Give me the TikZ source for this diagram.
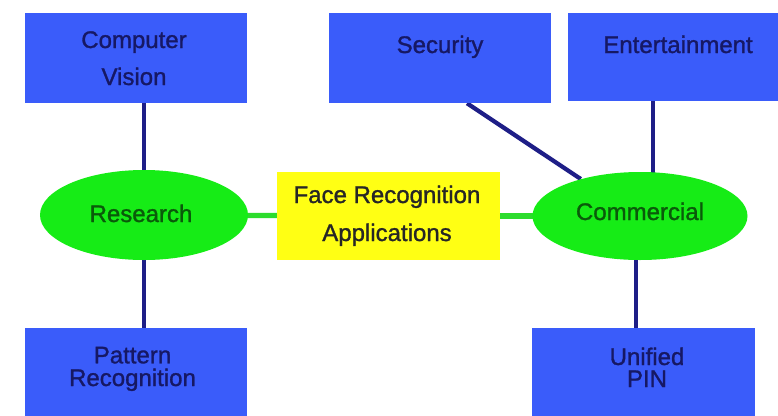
\documentclass[tikz,border=0pt]{standalone}
\usepackage{fontspec}
\setmainfont{Liberation Sans}
\newfontface\heavyface{Liberation Sans}[FakeBold=1.2]
\usetikzlibrary{shapes.geometric,calc,backgrounds}
\definecolor{boxblue}{RGB}{58,92,250}
\definecolor{navytext}{RGB}{22,24,100}
\definecolor{navyline}{RGB}{30,30,135}
\definecolor{ellgreen}{RGB}{22,236,22}
\definecolor{greentext}{RGB}{10,90,10}
\definecolor{greenline}{RGB}{45,220,45}
\definecolor{appyellow}{RGB}{255,255,20}
\tikzset{
  bluebox/.style={rectangle, fill=boxblue, draw=none, inner sep=0pt},
  greenell/.style={ellipse, fill=ellgreen, draw=none, inner sep=0pt},
  yellowbox/.style={rectangle, fill=appyellow, draw=none, inner sep=0pt},
  bluetxt/.style={text=navytext, font=\heavyface\fontsize{18}{27.75}\selectfont, align=center, anchor=base, inner sep=0pt},
  greentxt/.style={text=greentext, font=\heavyface\fontsize{18}{22}\selectfont, align=center, anchor=base, inner sep=0pt},
  yellowtxt/.style={text=black!85, font=\heavyface\fontsize{18}{28.5}\selectfont, align=center, anchor=base, inner sep=0pt},
  navyconn/.style={draw=navyline, line width=3.2pt},
  greenconn/.style={draw=greenline, line width=4pt}
}
\begin{document}
\begin{tikzpicture}[x=0.75pt,y=-0.75pt]
\useasboundingbox (0,0) rectangle (778,415);
% boxes
\node[bluebox, minimum width=222*0.75pt, minimum height=90*0.75pt] (cv) at (136,58) {};
\node[bluebox, minimum width=222*0.75pt, minimum height=90*0.75pt] (sec) at (440,58) {};
\node[bluebox, minimum width=212*0.75pt, minimum height=88*0.75pt] (ent) at (674,57) {};
\node[bluebox, minimum width=222*0.75pt, minimum height=88*0.75pt] (pr) at (136,372) {};
\node[bluebox, minimum width=223*0.75pt, minimum height=88*0.75pt] (pin) at (643.5,372) {};
\node[yellowbox, minimum width=223*0.75pt, minimum height=88*0.75pt] (app) at (388.5,216) {};
\node[greenell, minimum width=208*0.75pt, minimum height=90*0.75pt] (res) at (144,215) {};
\node[greenell, minimum width=215*0.75pt, minimum height=88*0.75pt] (com) at (640,216) {};
% texts (base anchor = baseline of last line)
\node[bluetxt] (cvt) at (134,85) {Computer\\Vision};
\node[bluetxt] (sect) at (440,53) {Security};
\node[bluetxt] (entt) at (678,53) {Entertainment};
\node[bluetxt, font=\heavyface\fontsize{18}{17}\selectfont] (prt) at (132.5,386) {Pattern\\Recognition};
\node[bluetxt, font=\heavyface\fontsize{18}{16.5}\selectfont] (pint) at (647,387) {Unified\\PIN};
\node[yellowtxt] (appt) at (387,241) {Face Recognition\\Applications};
\node[greentxt] (rest) at (141,222) {Research};
\node[greentxt] (comt) at (640,220) {Commercial};
% connectors
\begin{scope}[on background layer]
\fill[white] (0,0) rectangle (778,415);
\draw[navyconn] (res.center) -- (res.center |- cv.south);
\draw[navyconn] (res.center) -- (res.center |- pr.north);
\draw[greenconn] (res.center) -- (app.center);
\draw[greenconn] (app.center) -- (com.center);
\coordinate (secfoot) at ($(sec.south)+(27,0)$);
\draw[navyconn] (secfoot) -- (com.148);
\coordinate (entfoot) at ($(com.center)+(13,0)$);
\draw[navyconn] (entfoot) -- (entfoot |- ent.south);
\coordinate (pinfoot) at ($(com.center)+(-4,0)$);
\draw[navyconn] (pinfoot) -- (pinfoot |- pin.north);
\end{scope}
\end{tikzpicture}
\end{document}
